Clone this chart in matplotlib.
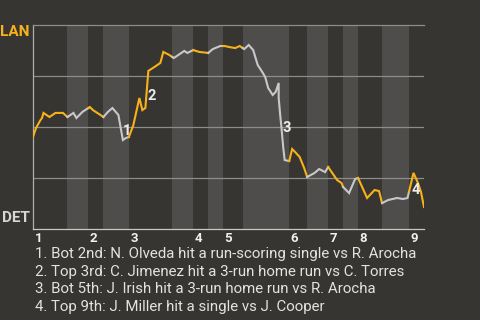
import numpy as np
import matplotlib
matplotlib.use("Agg")
import matplotlib.pyplot as plt

plt.rcParams['font.family'] = ['Roboto', 'DejaVu Sans']

# pitch number vs LAN win probability (%)
pitch = [0, 2, 5, 6, 7, 11, 15, 20, 23, 27, 29, 33, 38, 40, 45, 47, 50, 53, 57, 60,
         62, 64, 67, 71, 73, 75, 77, 81, 85, 87, 91, 94, 98, 101, 103, 107, 111, 117,
         120, 125, 128, 131, 135, 138, 141, 144, 147, 149, 150, 153, 155, 157, 160, 162,
         164, 164, 165, 166, 167, 168, 171, 173, 175, 178, 181, 183, 188, 191, 195, 197,
         203, 206, 207, 211, 215, 217, 220, 223, 228, 231, 233, 237, 243, 247, 250, 254,
         257, 259, 261]
lan_wp = [45.1, 49.5, 53.4, 54.4, 56.9, 54.9, 56.9, 56.9, 54.9, 56.9, 54.4, 57.4, 59.8,
          58.3, 55.9, 54.9, 57.4, 59.3, 55.9, 43.6, 44.6, 45.1, 51.0, 64.2, 58.3, 59.3,
          77.5, 79.4, 81.4, 86.8, 85.3, 83.8, 85.8, 87.3, 86.3, 87.7, 86.8, 86.3, 88.2,
          89.7, 89.7, 89.2, 88.7, 89.7, 88.2, 90.2, 87.7, 82.8, 80.4, 77.0, 74.5, 69.1,
          65.7, 67.2, 71.6, 64.2, 55.9, 48.5, 40.2, 33.8, 33.3, 39.2, 37.7, 35.3, 29.9,
          25.5, 27.5, 29.4, 27.9, 30.4, 24.0, 22.5, 20.6, 17.6, 24.5, 25.0, 20.1, 15.2,
          19.1, 18.6, 12.7, 14.2, 15.2, 14.7, 15.2, 27.5, 22.5, 18.1, 10.8]

# first pitch of each half inning, plus the last pitch
half_starts = [0, 23, 37, 47, 64, 93, 107, 117, 127, 140, 171, 183, 197, 207, 217, 233, 251]
last_pitch = 261
innings = ['1', '2', '3', '4', '5', '6', '7', '8', '9']

# key plays: pitch, win prob, label
play_x = [62.7, 79.3, 169.3, 255.3]
play_y = [48.0, 65.2, 49.5, 19.1]
play_lbl = ['1', '2', '3', '4']
play_text = [
    "1. Bot 2nd: N. Olveda hit a run-scoring single vs R. Arocha",
    "2. Top 3rd: C. Jimenez hit a 3-run home run vs C. Torres",
    "3. Bot 5th: J. Irish hit a 3-run home run vs R. Arocha",
    "4. Top 9th: J. Miller hit a single vs J. Cooper",
]

bg = '#373531'
band = '#4e4d4b'
orange = '#f7b21a'
grey = '#c8c8c8'

fig = plt.figure(figsize=(4.8, 3.2), dpi=100, facecolor=bg)
ax = fig.add_axes([33 / 480, 1 - 229 / 320, 391 / 480, 204 / 320])
ax.set_facecolor(bg)

x = np.array(pitch, dtype=float)
y = np.array(lan_wp, dtype=float)
bounds = half_starts + [last_pitch]

for i in range(len(bounds) - 1):
    a, b = bounds[i], bounds[i + 1]
    if i % 2 == 1:
        ax.axvspan(a, b, color=band, lw=0, zorder=0)
    m = (x > a) & (x < b)
    xs = np.concatenate([[a], x[m], [b]])
    ys = np.concatenate([[np.interp(a, x, y)], y[m], [np.interp(b, x, y)]])
    ax.plot(xs, ys, color=orange if i % 2 == 0 else grey, lw=1.5, zorder=3,
            solid_joinstyle='miter')

for g in [25, 50, 75]:
    ax.axhline(g, color='#8c8c8a', lw=0.9, zorder=1)

ax.set_xlim(0, last_pitch)
ax.set_ylim(0, 100)
ax.set_xticks([])
ax.set_yticks([])
ax.spines['right'].set_visible(False)
ax.spines['top'].set_color('#8c8c8a')
ax.spines['left'].set_color('#b0b0ae')
ax.spines['bottom'].set_color('#c8c8c6')
for s in ax.spines.values():
    s.set_linewidth(0.9)

ax.text(-0.008, 96.6, 'LAN', transform=ax.get_yaxis_transform(), ha='right', va='center',
        color=orange, fontsize=11, fontweight='bold')
ax.text(-0.008, 5.4, 'DET', transform=ax.get_yaxis_transform(), ha='right', va='center',
        color='#d6d6d4', fontsize=11, fontweight='bold')

for st, lbl in zip(half_starts[::2], innings):
    ax.annotate(lbl, (st, 0), xycoords=('data', 'axes fraction'), xytext=(1, -2),
                textcoords='offset points', ha='left', va='top', color='#f0f0f0',
                fontsize=9.5, fontweight='bold')

for px, py, lbl in zip(play_x, play_y, play_lbl):
    ax.text(px, py, lbl, ha='center', va='center', color='#ececec', fontsize=10.5,
            fontweight='bold', zorder=5)

baselines = [258.3, 275.8, 293.3, 310.8]
for t, b in zip(play_text, baselines):
    fig.text(35 / 480, 1 - b / 320, t, ha='left', va='baseline', color='#e2e2e2',
             fontsize=10.8)

fig.savefig('out.png', dpi=100, facecolor=bg)
